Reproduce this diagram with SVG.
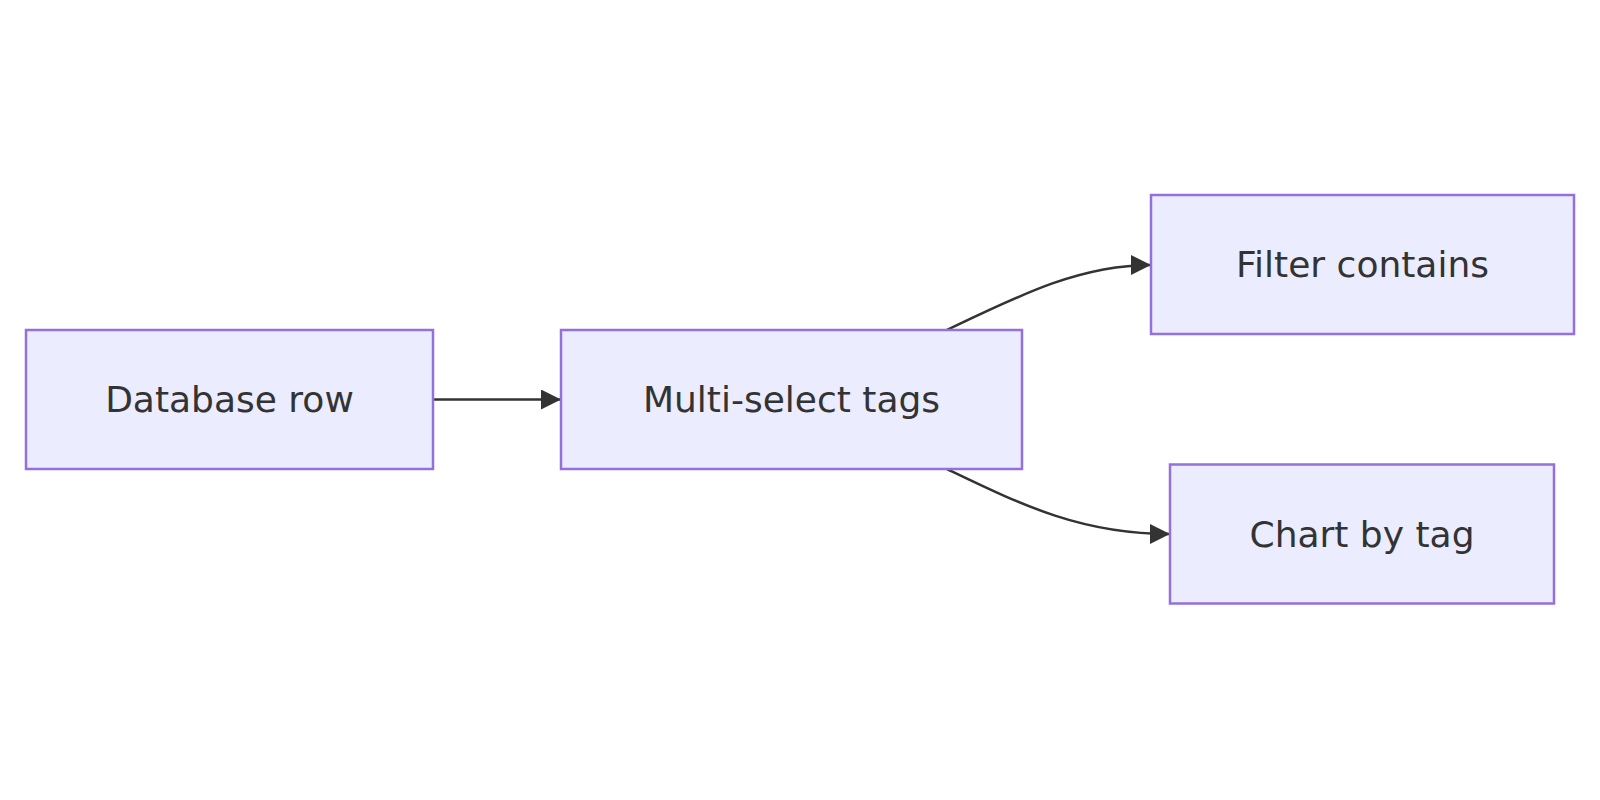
<svg xmlns="http://www.w3.org/2000/svg" width="1600" height="800" viewBox="0 0 1600 800">
<style>
.node rect{fill:#ECECFF;stroke:#9370DB;stroke-width:2.5}
.node text{font-family:"DejaVu Sans",sans-serif;font-size:36px;fill:#333;text-anchor:middle;dominant-baseline:central}
.edge{fill:none;stroke:#333;stroke-width:2.5}
</style>
<defs>
<marker id="arrow" viewBox="0 0 10 10" refX="10" refY="5" markerUnits="userSpaceOnUse" markerWidth="20" markerHeight="20" orient="auto">
<path d="M0,0 L10,5 L0,10 z" fill="#333"/>
</marker>
</defs>
<rect width="1600" height="800" fill="#fff"/>
<g id="connectors">
<path class="edge" d="M433,399.5 L561,399.5" marker-end="url(#arrow)"/>
<path class="edge" d="M947,330 C1020,295 1080,265 1151,265" marker-end="url(#arrow)"/>
<path class="edge" d="M947,469 C1020,504 1080,534 1170,534" marker-end="url(#arrow)"/>
</g>
<g id="node-database" class="node">
<rect x="26" y="330" width="407" height="139"/>
<text x="229.5" y="399.5">Database row</text>
</g>
<g id="node-multiselect" class="node">
<rect x="561" y="330" width="461" height="139"/>
<text x="791.5" y="399.5">Multi-select tags</text>
</g>
<g id="node-filter" class="node">
<rect x="1151" y="195" width="423" height="139"/>
<text x="1362.5" y="264.5">Filter contains</text>
</g>
<g id="node-chart" class="node">
<rect x="1170" y="464.5" width="384" height="139"/>
<text x="1362" y="534">Chart by tag</text>
</g>
</svg>
